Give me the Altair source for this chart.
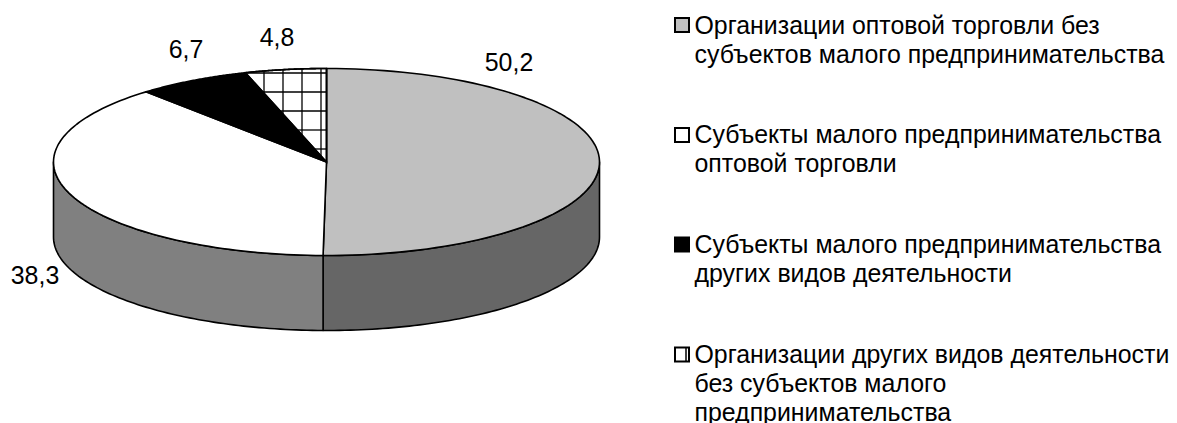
import numpy as np
import pandas as pd
import altair as alt

# --- data ---
shares = [50.2, 38.3, 6.7, 4.8]
share_labels = ["50,2", "38,3", "6,7", "4,8"]
top_colors = ["#c0c0c0", "#ffffff", "#000000", "#ffffff"]
legend_lines = [
    ["Организации оптовой торговли без", "субъектов малого предпринимательства"],
    ["Субъекты малого предпринимательства", "оптовой торговли"],
    ["Субъекты малого предпринимательства", "других видов деятельности"],
    ["Организации других видов деятельности", "без субъектов малого", "предпринимательства"],
]

# --- geometry / layout (page pixels) ---
W, H = 1161, 415
CX, CY, RX, RY, DEPTH = 326.5, 162.0, 273.0, 93.5, 75.0
label_x = [509, 35, 186, 277]
label_y = [64, 277, 51, 39]
legend_text_x = 694.5
legend_marker_x = 682
legend_first_y = [27, 136, 246, 356]
legend_marker_y = [25, 135, 244.5, 354.5]
LINE_H = 29
FONT = "Liberation Sans"
FS = 24.9
LW = 1.6
hatch_x = [264, 283, 302, 321]
hatch_y = [73, 92, 111, 130, 149]

X = alt.X("x:Q", scale=alt.Scale(domain=[8, 8 + W], nice=False, zero=False), axis=None)
Y = alt.Y("y:Q", scale=alt.Scale(domain=[8 + H, 8], nice=False, zero=False), axis=None)

edges = np.cumsum([0] + shares) / sum(shares) * 2 * np.pi


def ell(t, dy=0.0):
    return CX + RX * np.sin(t), CY - RY * np.cos(t) + dy


def poly(xs, ys):
    return pd.DataFrame({"x": xs, "y": ys, "i": np.arange(len(xs))})


def shape(xs, ys, fill, stroke="#000000"):
    kw = dict(interpolate="linear-closed", stroke=stroke, strokeWidth=LW, strokeJoin="round", clip=False)
    kw["fill"] = fill
    return alt.Chart(poly(xs, ys)).mark_line(**kw).encode(x=X, y=Y, order="i:Q")


def side(t0, t1, fill):
    t = np.linspace(t0, t1, 80)
    x0, y0 = ell(t)
    x1, y1 = ell(t[::-1], DEPTH)
    return shape(np.r_[x0, x1], np.r_[y0, y1], fill)


def sector(t0, t1, fill):
    t = np.linspace(t0, t1, 90)
    x, y = ell(t)
    return shape(np.r_[CX, x], np.r_[CY, y], fill)


layers = [
    side(np.pi / 2, edges[1], "#666666"),
    side(edges[1], 1.5 * np.pi, "#808080"),
]
for k in range(4):
    layers.append(sector(edges[k], edges[k + 1], top_colors[k]))

# hatch of the last slice
ex, ey = ell(edges[3])
rows = []
n = 0
for c in hatch_x:
    top = CY - RY * np.sqrt(max(0, 1 - ((c - CX) / RX) ** 2))
    bot = CY + (c - CX) * (ey - CY) / (ex - CX)
    if bot > top:
        rows += [(c, top, n, 0), (c, bot, n, 1)]
        n += 1
for c in hatch_y:
    left = CX + (c - CY) * (ex - CX) / (ey - CY)
    lim = CX - RX * np.sqrt(max(0, 1 - ((c - CY) / RY) ** 2))
    rows += [(max(left, lim), c, n, 0), (CX, c, n, 1)]
    n += 1
hatch = pd.DataFrame(rows, columns=["x", "y", "g", "i"])
layers.append(
    alt.Chart(hatch).mark_line(color="#000000", strokeWidth=1.3).encode(x=X, y=Y, detail="g:N", order="i:Q")
)

# re-stroke the slices on top of the hatch
t = np.linspace(edges[3], edges[4], 60)
xa, ya = ell(t)
layers.append(
    alt.Chart(poly(np.r_[CX, xa], np.r_[CY, ya]))
    .mark_line(interpolate="linear-closed", color="#000000", strokeWidth=LW)
    .encode(x=X, y=Y, order="i:Q")
)

# value labels
lab = pd.DataFrame({"x": label_x, "y": label_y, "t": share_labels})
layers.append(
    alt.Chart(lab).mark_text(font=FONT, fontSize=FS, color="#000000", baseline="middle", align="center")
    .encode(x=X, y=Y, text="t:N")
)

# legend text
rows = []
for y0, lines in zip(legend_first_y, legend_lines):
    for j, s in enumerate(lines):
        rows.append((legend_text_x, y0 + j * LINE_H, s))
leg = pd.DataFrame(rows, columns=["x", "y", "t"])
layers.append(
    alt.Chart(leg).mark_text(font=FONT, fontSize=FS, color="#000000", baseline="middle", align="left")
    .encode(x=X, y=Y, text="t:N")
)

# legend markers
mk = pd.DataFrame({
    "x": [legend_marker_x] * 4,
    "y": legend_marker_y,
    "f": top_colors,
})
layers.append(
    alt.Chart(mk).mark_point(shape="square", filled=True, size=196, stroke="#000000", strokeWidth=2, opacity=1)
    .encode(x=X, y=Y, fill=alt.Fill("f:N", scale=None))
)
tick = pd.DataFrame({"x": [686, 686], "y": [legend_marker_y[3] - 7, legend_marker_y[3] + 7], "i": [0, 1]})
layers.append(alt.Chart(tick).mark_line(color="#000000", strokeWidth=1.5).encode(x=X, y=Y, order="i:Q"))

chart = (
    alt.layer(*layers)
    .properties(width=W, height=H, padding=0, autosize=alt.AutoSizeParams(type="none"))
    .configure_view(stroke=None, fill=None)
)
chart.save("out.html", embed_options={"renderer": "svg", "actions": False})
